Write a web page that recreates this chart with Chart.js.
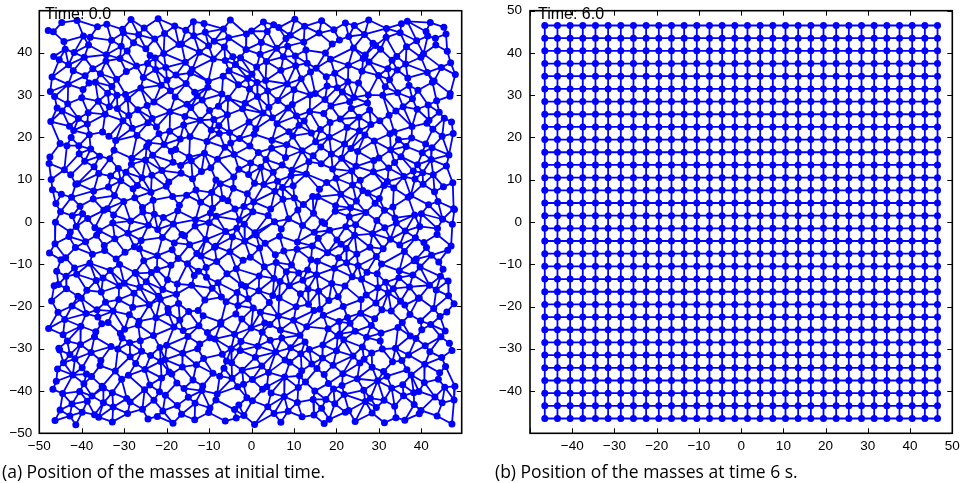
<!DOCTYPE html>
<html>
<head>
<meta charset="utf-8">
<script src="https://cdn.jsdelivr.net/npm/chart.js@4.4.1/dist/chart.umd.min.js"></script>
<style>
html,body{margin:0;padding:0;background:#fff;}
#wrap{position:relative;width:960px;height:483px;overflow:hidden;background:#fff;}
canvas{position:absolute;top:0;}
#c1{left:0;}
#c2{left:480px;}
.time{position:absolute;top:6px;font-family:"Liberation Sans",Arial,sans-serif;font-size:16px;line-height:16px;color:#000;white-space:nowrap;}
.cap{position:absolute;top:464px;font-family:"Open Sans",sans-serif;font-size:17.5px;line-height:15px;color:#000;white-space:nowrap;}
</style>
</head>
<body>
<div id="wrap">
<canvas id="c1" width="480" height="460"></canvas>
<canvas id="c2" width="480" height="460"></canvas>
<div class="time" id="t1" style="left:45px"></div>
<div class="time" id="t2" style="left:538px"></div>
<div class="cap" id="cap1" style="left:2px"></div>
<div class="cap" id="cap2" style="left:495px"></div>
</div>
<script>
// ---------- data ----------
const leftTitle = "Time: 0.0";
const rightTitle = "Time: 6.0";
const leftCaption = "(a) Position of the masses at initial time.";
const rightCaption = "(b) Position of the masses at time 6 s.";

const leftXTicks = [-50,-40,-30,-20,-10,0,10,20,30,40];
const leftYTicks = [-50,-40,-30,-20,-10,0,10,20,30,40];
const rightXTicks = [-40,-30,-20,-10,0,10,20,30,40,50];
const rightYTicks = [-40,-30,-20,-10,0,10,20,30,40,50];

// initial positions of the 32x32 masses
const initX = [
-47.9,-44.7,-41.1,-36.3,-34.1,-30.4,-28.4,-25.3,-22.0,-18.1,-15.5,-13.7,-11.2,-6.6,-5.0,0.0,2.8,5.2,6.4,10.2,12.5,16.5,19.4,22.1,24.2,27.6,31.8,35.3,36.7,41.1,42.1,45.3,
-46.7,-44.2,-39.6,-38.0,-33.0,-30.2,-27.8,-26.6,-22.8,-20.5,-16.5,-13.6,-10.9,-8.8,-5.4,-1.2,2.3,3.7,8.1,9.1,12.3,15.9,20.7,22.9,26.6,28.6,31.7,35.0,38.9,41.5,43.3,45.8,
-46.6,-43.9,-41.8,-38.4,-34.2,-30.7,-29.3,-24.9,-23.9,-20.7,-17.1,-12.3,-10.1,-6.4,-4.4,-1.3,2.0,5.9,8.5,10.3,12.8,17.4,19.0,24.0,26.8,29.2,30.4,34.2,36.5,40.5,43.4,46.1,
-45.3,-43.1,-39.4,-37.4,-34.3,-31.0,-27.1,-24.5,-22.7,-20.2,-15.6,-14.0,-9.0,-6.2,-3.8,-2.6,1.2,3.5,7.5,10.4,13.1,15.2,18.6,22.8,26.3,27.7,32.1,33.1,36.3,39.9,44.7,46.9,
-47.0,-42.0,-39.2,-36.8,-35.6,-31.8,-29.5,-25.5,-22.6,-19.9,-17.8,-14.4,-10.2,-6.7,-5.3,-0.9,0.1,3.3,6.9,11.7,13.9,17.6,19.6,22.7,26.0,29.9,32.5,34.3,36.8,41.4,43.0,48.0,
-47.4,-43.2,-39.7,-38.3,-33.9,-32.9,-29.7,-26.1,-21.3,-19.1,-15.4,-13.4,-10.3,-7.0,-3.1,-0.5,1.3,3.8,8.4,10.0,15.0,17.8,20.2,21.4,25.2,27.5,31.5,34.4,37.1,39.2,42.6,46.8,
-46.4,-43.3,-40.0,-36.1,-33.5,-31.7,-29.2,-24.6,-23.0,-18.0,-15.2,-12.8,-11.6,-7.8,-5.5,-1.5,1.4,4.1,6.2,9.6,13.8,17.3,18.7,23.1,24.1,27.3,30.9,35.7,37.9,41.6,43.6,46.7,
-45.8,-44.6,-40.8,-38.5,-34.5,-31.6,-28.9,-26.8,-23.4,-19.2,-15.7,-14.3,-9.9,-8.9,-5.7,-2.1,2.7,4.9,8.6,10.6,13.7,17.0,20.9,23.5,25.3,27.8,32.4,34.0,39.0,41.8,44.2,45.4,
-47.3,-42.9,-41.9,-38.7,-35.1,-30.3,-28.1,-24.4,-22.4,-19.3,-16.0,-12.1,-9.5,-7.7,-5.2,-0.6,1.0,6.0,8.8,11.2,12.4,16.2,18.5,22.5,25.4,28.1,30.2,33.6,37.8,41.3,42.7,47.1,
-45.1,-42.5,-40.7,-38.2,-33.6,-32.0,-27.0,-24.2,-21.8,-20.6,-16.8,-14.5,-10.5,-7.6,-4.9,-2.8,0.6,4.8,8.3,9.7,14.1,15.1,18.3,21.9,26.7,28.9,32.6,34.6,37.7,41.0,44.9,47.5,
-47.5,-43.5,-40.6,-37.9,-35.8,-32.4,-28.2,-24.7,-23.3,-18.9,-17.9,-14.7,-11.1,-6.3,-4.1,-0.4,1.6,4.7,8.0,11.9,14.5,16.3,18.8,23.4,25.0,30.0,32.8,35.2,36.4,40.2,42.5,46.5,
-47.7,-44.1,-39.3,-37.1,-33.4,-31.4,-28.3,-25.0,-21.1,-18.5,-16.7,-14.2,-9.6,-8.0,-3.0,-0.2,2.2,3.4,7.2,9.5,13.5,16.4,19.1,21.2,24.6,28.8,32.3,33.7,38.1,39.1,42.3,45.9,
-47.2,-42.6,-41.0,-36.0,-33.2,-30.8,-29.6,-25.8,-23.5,-19.5,-16.6,-13.9,-11.8,-8.4,-4.2,-0.7,0.7,5.1,6.1,9.3,12.9,17.7,19.9,23.6,25.6,28.7,32.0,35.9,38.5,40.3,42.8,47.4,
-46.9,-44.8,-41.4,-37.2,-33.7,-32.3,-27.9,-26.9,-23.7,-20.1,-15.3,-13.1,-9.4,-7.4,-4.3,-1.0,2.9,5.5,7.3,9.8,14.4,16.0,21.0,23.8,26.2,27.4,31.2,33.5,37.5,40.4,43.1,45.2,
-46.1,-42.4,-40.4,-37.3,-34.0,-30.1,-27.5,-25.7,-23.2,-18.6,-17.0,-12.0,-9.2,-6.8,-5.6,-1.8,0.5,4.5,7.4,10.1,12.2,15.6,19.8,23.3,24.7,29.1,30.1,33.3,36.9,41.7,43.9,47.6,
-45.0,-42.2,-39.8,-38.6,-34.8,-32.5,-28.5,-25.6,-22.9,-20.8,-17.4,-13.2,-9.7,-8.3,-3.9,-2.9,0.3,3.9,8.7,10.9,14.6,16.6,19.7,23.0,26.9,29.5,31.3,33.8,38.4,40.0,45.0,47.8,
-46.2,-42.7,-41.3,-36.9,-35.9,-32.7,-29.1,-24.3,-22.1,-18.4,-16.4,-13.3,-10.0,-6.1,-3.5,-1.7,0.8,5.4,7.0,12.0,14.8,17.2,18.4,22.2,24.5,28.5,31.4,34.1,36.2,39.6,43.8,47.3,
-46.3,-43.0,-39.1,-36.5,-34.7,-32.2,-27.6,-26.0,-21.0,-18.2,-15.8,-14.6,-10.8,-8.5,-4.5,-1.6,1.1,3.2,6.6,10.8,14.3,15.7,20.1,21.1,24.3,27.9,32.7,34.9,38.6,40.6,43.7,47.0,
-47.6,-43.8,-41.5,-37.5,-34.6,-31.9,-29.8,-26.4,-22.2,-18.7,-17.3,-12.9,-11.9,-8.7,-5.1,-0.3,1.9,5.6,7.6,10.7,14.0,17.9,20.5,22.3,24.8,29.4,31.0,36.0,38.8,41.2,42.4,46.2,
-45.9,-44.9,-41.7,-38.1,-33.3,-31.1,-27.4,-25.4,-22.3,-19.0,-15.1,-12.5,-10.7,-8.2,-3.6,-2.0,3.0,5.8,8.2,9.4,13.2,15.5,19.5,22.4,25.1,27.2,30.6,34.8,38.3,39.7,44.1,45.1,
-45.5,-43.7,-41.2,-36.6,-35.0,-30.0,-27.2,-24.8,-23.6,-19.8,-17.5,-13.5,-10.6,-7.9,-5.8,-2.4,1.8,5.3,6.7,11.1,12.1,15.3,18.9,23.7,25.9,29.6,31.6,34.7,38.0,41.9,44.5,46.3,
-46.5,-43.6,-40.9,-38.8,-35.4,-31.2,-27.7,-26.3,-21.9,-20.9,-17.7,-14.1,-9.3,-7.1,-3.4,-1.4,1.7,5.0,8.9,11.5,13.3,15.8,20.4,22.0,27.0,29.8,32.2,33.4,37.2,39.5,43.5,46.4,
-47.1,-42.3,-40.1,-36.4,-34.4,-31.3,-28.0,-24.1,-21.5,-19.7,-17.2,-12.6,-11.0,-6.0,-3.2,-0.8,0.4,4.2,6.5,10.5,13.4,16.1,18.2,21.6,25.8,29.3,30.7,35.1,36.1,39.3,42.9,47.7,
-45.6,-44.0,-39.0,-36.2,-33.8,-32.6,-28.8,-26.5,-22.5,-19.6,-16.9,-14.8,-11.4,-7.2,-3.7,-2.3,2.1,3.1,6.3,9.9,14.7,16.9,20.6,22.6,25.7,29.0,32.9,35.5,37.3,39.8,44.4,46.0,
-47.8,-44.4,-40.2,-36.7,-35.3,-30.9,-29.9,-26.7,-23.1,-18.3,-16.1,-12.4,-10.4,-7.3,-4.0,-0.1,2.5,4.3,6.8,11.4,13.0,18.0,20.8,23.2,24.4,28.2,30.5,34.5,37.4,40.1,42.2,45.6,
-45.4,-43.4,-40.3,-37.0,-33.1,-30.5,-28.7,-26.2,-21.6,-20.0,-15.0,-12.2,-9.8,-8.6,-4.8,-2.5,1.5,4.4,7.1,9.2,12.6,16.8,20.3,21.7,26.1,27.1,30.3,33.9,38.7,40.9,44.6,46.6,
-45.2,-42.8,-41.6,-37.8,-35.5,-31.5,-28.6,-25.9,-23.8,-20.4,-16.2,-12.7,-11.3,-6.9,-5.9,-2.7,0.9,5.7,7.9,11.6,13.6,16.7,20.0,23.9,26.5,28.3,30.8,35.4,37.0,42.0,44.8,47.2,
-45.7,-44.3,-39.9,-38.9,-35.7,-32.1,-27.3,-25.1,-21.4,-19.4,-16.3,-13.0,-9.1,-6.5,-4.7,-2.2,2.4,4.0,9.0,11.8,14.2,15.4,19.2,21.5,25.5,28.4,31.1,33.2,36.6,40.8,44.3,45.7,
-46.0,-42.1,-39.5,-37.7,-35.2,-30.6,-29.0,-24.0,-21.2,-18.8,-17.6,-13.8,-11.5,-7.5,-4.6,-1.9,0.2,3.6,7.8,11.3,12.7,17.1,18.1,21.3,24.9,29.7,31.9,35.6,37.6,40.7,44.0,47.9,
-46.8,-44.5,-40.5,-37.6,-34.9,-32.8,-29.4,-25.2,-21.7,-20.3,-15.9,-14.9,-11.7,-8.1,-3.3,-1.1,2.6,4.6,7.7,11.0,14.9,17.5,19.3,21.8,26.4,28.0,33.0,35.8,38.2,39.4,43.2,45.5,
-45.1,-42.3,-39.9,-38.7,-34.9,-32.6,-28.6,-25.7,-23.0,-20.9,-17.5,-13.3,-9.8,-8.4,-4.0,-3.0,0.2,3.8,8.6,10.8,14.5,16.5,19.6,22.9,26.8,29.4,31.2,33.7,38.3,39.9,44.9,47.7,
-46.3,-42.8,-41.4,-37.0,-36.0,-32.8,-29.2,-24.4,-22.2,-18.5,-16.5,-13.4,-10.1,-6.2,-3.6,-1.8,0.7,5.3,6.9,11.9,14.7,17.1,18.3,22.1,24.4,28.4,31.3,34.0,36.1,39.5,43.7,47.2
];
const initY = [
45.2,47.1,47.6,46.1,46.7,45.5,47.8,45.8,48.0,46.3,45.3,47.3,46.9,45.6,47.7,45.1,47.2,46.6,45.9,47.9,46.2,47.5,45.4,47.0,46.4,47.7,45.7,46.8,47.4,45.0,47.1,46.0,
44.9,42.6,43.9,43.6,42.9,44.7,42.3,44.2,43.2,44.5,42.0,44.0,44.8,42.7,43.5,44.4,42.4,45.0,43.3,44.1,42.5,44.6,43.0,43.8,44.3,42.2,43.6,44.7,42.8,43.9,43.4,44.4,
39.1,40.8,40.0,41.8,39.5,41.5,40.4,40.9,39.3,39.8,41.9,40.1,41.6,41.3,39.0,40.7,39.6,41.0,41.5,39.2,40.6,39.9,42.0,41.1,39.4,41.7,40.8,39.1,41.4,39.7,41.8,40.3,
38.3,37.1,38.9,36.2,38.0,38.6,36.8,37.4,38.7,36.5,37.7,36.0,38.5,38.1,37.2,38.8,36.6,37.9,39.0,36.9,37.5,36.3,38.4,37.0,38.6,37.8,36.2,38.2,37.3,38.9,36.5,37.6,
34.2,35.7,34.5,33.0,35.0,33.7,35.5,34.1,36.0,33.5,34.7,35.2,33.2,34.4,35.7,33.9,34.9,33.4,35.8,33.8,35.4,34.3,35.1,33.1,35.6,34.6,33.6,35.9,34.0,35.3,33.3,34.8,
30.8,32.5,31.3,32.8,30.4,32.0,30.1,31.6,32.3,31.0,32.7,30.6,31.8,30.2,32.4,31.4,32.9,30.9,32.6,31.2,30.3,32.1,31.7,30.7,32.8,30.0,31.9,30.5,32.2,31.1,33.0,30.3,
29.6,27.9,29.3,28.5,27.2,29.9,29.0,27.5,28.3,29.5,27.8,29.8,28.8,27.3,29.2,28.0,29.6,27.1,28.7,27.7,30.0,28.9,27.4,28.4,29.4,28.1,29.9,27.2,29.1,27.6,28.6,29.7,
26.9,26.2,24.4,25.8,25.4,26.8,25.1,26.5,24.4,26.0,24.9,27.0,26.3,24.2,25.3,26.7,25.7,24.6,26.9,25.0,26.1,25.6,24.3,26.8,24.7,26.4,25.2,26.2,26.6,24.0,25.9,24.5,
23.7,22.6,21.6,23.1,21.2,23.9,22.1,23.4,22.4,21.4,22.9,24.0,21.7,22.7,21.1,23.6,22.0,23.2,21.3,22.8,23.8,21.8,23.5,22.3,21.5,23.0,23.9,21.2,22.5,23.3,21.9,23.6,
18.5,19.9,18.0,20.6,20.2,19.2,20.4,18.7,20.8,18.3,19.6,20.1,19.0,20.9,18.6,19.7,20.7,19.3,18.2,20.3,21.0,18.9,20.0,18.4,20.5,19.1,20.8,19.4,19.8,18.4,20.2,20.9,
15.3,18.0,16.1,17.2,15.5,16.9,15.0,17.8,15.7,16.7,17.1,15.3,16.2,17.6,15.9,17.9,16.4,17.4,15.2,16.8,15.6,17.7,16.0,17.3,16.6,15.1,17.0,15.4,17.8,16.3,17.5,15.8,
13.8,12.3,14.3,13.0,14.9,12.6,13.6,14.6,12.1,14.1,13.3,14.4,12.8,14.8,12.4,13.9,12.9,14.7,13.4,12.2,14.2,13.7,12.5,15.0,13.1,14.5,12.7,14.0,12.0,13.5,14.7,13.2,
10.0,11.1,9.0,11.4,10.8,9.7,11.7,10.4,11.0,9.4,11.5,10.2,11.9,9.9,10.6,11.2,9.1,11.7,9.6,10.9,11.3,9.3,10.3,12.0,9.8,11.8,9.5,10.7,10.1,11.6,11.1,9.2,
7.6,6.5,8.9,7.3,8.2,6.2,7.8,8.6,7.0,8.4,6.3,7.5,6.9,9.0,7.9,6.6,8.8,7.2,8.1,8.5,6.0,7.7,6.5,8.7,7.4,6.8,8.6,8.0,6.2,8.9,7.1,8.3,
4.3,5.8,3.7,5.4,3.1,4.8,5.7,3.4,5.1,6.0,3.9,4.6,3.2,5.5,5.0,3.6,4.7,3.0,5.3,5.6,4.1,5.9,3.8,3.3,4.9,4.4,5.5,3.5,5.8,4.0,4.8,3.1,
2.4,1.4,1.9,0.8,2.7,1.6,0.2,2.3,1.8,1.0,2.6,0.5,2.1,1.3,3.0,0.4,2.4,1.5,0.7,2.8,2.0,0.0,2.5,1.2,2.2,0.3,2.7,0.9,1.6,1.9,0.6,2.9,
-0.1,-2.4,-1.1,-1.4,-2.1,-0.3,-2.7,-0.8,-1.8,-0.5,-3.0,-1.0,-0.2,-2.3,-1.5,-0.6,-2.6,0.0,-1.7,-0.9,-2.5,-0.4,-2.0,-1.2,-0.7,-2.8,-1.4,-0.3,-2.2,-1.1,-1.6,-0.6,
-5.2,-3.5,-4.7,-3.2,-5.6,-4.0,-5.9,-4.4,-3.7,-5.0,-3.3,-5.4,-4.2,-5.8,-3.6,-4.6,-3.1,-5.1,-3.4,-4.8,-5.7,-3.9,-4.3,-5.3,-3.2,-6.0,-4.1,-5.5,-3.8,-4.9,-3.0,-5.7,
-7.4,-8.5,-6.1,-7.7,-6.8,-8.8,-7.2,-6.4,-8.0,-6.6,-8.7,-7.5,-8.1,-6.0,-7.1,-8.4,-6.2,-7.8,-6.9,-6.5,-9.0,-7.3,-8.5,-6.3,-7.6,-8.2,-6.4,-7.0,-8.8,-6.1,-7.9,-6.7,
-11.7,-9.0,-10.9,-9.8,-11.5,-10.1,-12.0,-9.2,-11.3,-10.3,-9.9,-11.7,-10.8,-9.4,-11.1,-9.1,-10.6,-9.6,-11.8,-10.2,-11.4,-9.3,-11.0,-9.7,-10.4,-11.9,-10.0,-11.6,-9.2,-10.7,-9.5,-11.2,
-14.8,-12.9,-12.4,-13.9,-13.3,-14.5,-12.2,-14.2,-12.0,-13.7,-14.7,-12.7,-13.1,-14.4,-12.3,-14.9,-12.8,-13.4,-14.1,-12.1,-13.8,-12.5,-14.6,-13.0,-13.6,-12.3,-14.3,-13.2,-12.6,-15.0,-12.9,-14.0,
-15.1,-15.8,-17.6,-16.2,-16.6,-15.2,-16.9,-15.5,-17.6,-16.0,-17.1,-15.0,-15.7,-17.8,-16.7,-15.3,-16.3,-17.4,-15.1,-17.0,-15.9,-16.4,-17.7,-15.2,-17.3,-15.6,-16.8,-15.8,-15.4,-18.0,-16.1,-17.5,
-18.7,-19.9,-18.1,-20.8,-19.0,-18.4,-20.2,-19.6,-18.3,-20.5,-19.3,-21.0,-18.5,-18.9,-19.8,-18.2,-20.4,-19.1,-18.0,-20.1,-19.5,-20.7,-18.6,-20.0,-18.4,-19.2,-20.8,-18.8,-19.7,-18.1,-20.5,-19.4,
-21.4,-23.1,-21.7,-22.5,-23.8,-21.1,-22.0,-23.5,-22.7,-21.5,-23.2,-21.2,-22.2,-23.7,-21.8,-23.0,-21.4,-23.9,-22.3,-23.3,-21.0,-22.1,-23.6,-22.6,-21.6,-22.9,-21.1,-23.8,-21.9,-23.4,-22.4,-21.3,
-25.2,-26.7,-24.7,-26.0,-24.1,-26.4,-25.4,-24.4,-26.9,-24.9,-25.7,-24.6,-26.2,-24.2,-26.6,-25.1,-26.1,-24.3,-25.6,-26.8,-24.8,-25.3,-26.5,-24.0,-25.9,-24.5,-26.3,-25.0,-27.0,-25.5,-24.3,-25.8,
-29.9,-28.2,-29.0,-27.2,-29.5,-27.5,-28.6,-28.1,-29.7,-29.2,-27.1,-28.9,-27.4,-27.7,-30.0,-28.3,-29.4,-28.0,-27.5,-29.8,-28.4,-29.1,-27.0,-27.9,-29.6,-27.3,-28.2,-29.9,-27.6,-29.3,-27.2,-28.7,
-30.3,-31.4,-32.4,-30.9,-32.8,-30.1,-31.9,-30.6,-31.6,-32.6,-31.1,-30.0,-32.3,-31.3,-32.9,-30.4,-32.0,-30.8,-32.7,-31.2,-30.2,-32.2,-30.5,-31.7,-32.5,-31.0,-30.1,-32.8,-31.5,-30.7,-32.1,-30.4,
-34.8,-33.3,-34.5,-36.0,-34.0,-35.3,-33.5,-34.9,-33.0,-35.5,-34.3,-33.8,-35.8,-34.6,-33.3,-35.1,-34.1,-35.6,-33.2,-35.2,-33.6,-34.7,-33.9,-35.9,-33.4,-34.4,-35.4,-33.1,-35.0,-33.7,-35.7,-34.2,
-37.7,-36.2,-38.3,-36.6,-38.9,-37.2,-36.3,-38.6,-36.9,-36.0,-38.1,-37.4,-38.8,-36.5,-37.0,-38.4,-37.3,-39.0,-36.7,-36.4,-37.9,-36.1,-38.2,-38.7,-37.1,-37.6,-36.5,-38.5,-36.2,-38.0,-37.2,-38.9,
-39.6,-40.6,-40.1,-41.2,-39.3,-40.4,-41.8,-39.7,-40.2,-41.0,-39.4,-41.5,-39.9,-40.7,-39.0,-41.6,-39.6,-40.5,-41.3,-39.2,-40.0,-42.0,-39.5,-40.8,-39.8,-41.7,-39.3,-41.1,-40.4,-40.1,-41.4,-39.1,
-44.5,-43.1,-45.0,-42.4,-42.8,-43.8,-42.6,-44.3,-42.2,-44.7,-43.4,-42.9,-44.0,-42.1,-44.4,-43.3,-42.3,-43.7,-44.8,-42.7,-42.0,-44.1,-43.0,-44.6,-42.5,-43.9,-42.2,-43.6,-43.2,-44.6,-42.8,-42.1,
-47.0,-45.9,-48.0,-45.6,-46.2,-47.3,-45.3,-46.6,-46.0,-47.6,-45.5,-46.8,-45.1,-47.1,-46.4,-45.8,-47.9,-45.3,-47.4,-46.1,-45.7,-47.7,-46.7,-45.0,-47.2,-45.2,-47.5,-46.3,-46.9,-45.4,-45.9,-47.8
];

// final positions at t = 6 s: a regular 32x32 lattice
const finalCols = [-46.5,-43.5,-40.5,-37.5,-34.5,-31.5,-28.5,-25.5,-22.5,-19.5,-16.5,-13.5,-10.5,-7.5,-4.5,-1.5,1.5,4.5,7.5,10.5,13.5,16.5,19.5,22.5,25.5,28.5,31.5,34.5,37.5,40.5,43.5,46.5];
const finalRows = [46.5,43.5,40.5,37.5,34.5,31.5,28.5,25.5,22.5,19.5,16.5,13.5,10.5,7.5,4.5,1.5,-1.5,-4.5,-7.5,-10.5,-13.5,-16.5,-19.5,-22.5,-25.5,-28.5,-31.5,-34.5,-37.5,-40.5,-43.5,-46.5];

// ---------- helpers ----------
const BLUE = '#0000ff';
const TICK_FONT = {family: '"Liberation Sans", Arial, Helvetica, sans-serif', size: 13.5};

function fmt(v) { return v < 0 ? '\u2212' + Math.abs(v) : String(v); }

// springs between neighbouring masses (Gabriel-type neighbourhood)
function buildEdges(xs, ys, maxLen) {
  const n = xs.length, m2 = maxLen * maxLen, nb = [], out = [];
  for (let i = 0; i < n; i++) {
    const l = [];
    for (let j = 0; j < n; j++) {
      if (j === i) continue;
      const dx = xs[j] - xs[i], dy = ys[j] - ys[i];
      if (dx * dx + dy * dy < m2) l.push(j);
    }
    nb.push(l);
  }
  for (let i = 0; i < n; i++) {
    for (const j of nb[i]) {
      if (j <= i) continue;
      const mx = (xs[i] + xs[j]) / 2, my = (ys[i] + ys[j]) / 2;
      const r2 = (((xs[i] - xs[j]) ** 2 + (ys[i] - ys[j]) ** 2) / 4) * 1.0001;
      let ok = true;
      for (const k of nb[i]) {
        if (k === j) continue;
        const dx = xs[k] - mx, dy = ys[k] - my;
        if (dx * dx + dy * dy <= r2) { ok = false; break; }
      }
      if (ok) out.push({x: xs[i], y: ys[i]}, {x: xs[j], y: ys[j]}, {x: NaN, y: NaN});
    }
  }
  return out;
}

const framePlugin = {
  id: 'frame',
  afterDatasetsDraw(chart, args, opts) {
    const ctx = chart.ctx, a = chart.chartArea, sx = chart.scales.x, sy = chart.scales.y;
    ctx.save();
    ctx.strokeStyle = '#000';
    ctx.lineWidth = 1;
    ctx.beginPath();
    for (const v of opts.xMarks) {
      const p = Math.round(sx.getPixelForValue(v)) + 0.5;
      ctx.moveTo(p, a.bottom); ctx.lineTo(p, a.bottom - 5);
      ctx.moveTo(p, a.top); ctx.lineTo(p, a.top + 5);
    }
    for (const v of opts.yMarks) {
      const p = Math.round(sy.getPixelForValue(v)) + 0.5;
      ctx.moveTo(a.left, p); ctx.lineTo(a.left + 5, p);
      ctx.moveTo(a.right, p); ctx.lineTo(a.right - 5, p);
    }
    ctx.stroke();
    ctx.lineWidth = 1.6;
    ctx.strokeRect(a.left, a.top, a.right - a.left, a.bottom - a.top);
    ctx.restore();
  }
};

function makeChart(id, xs, ys, cfg) {
  const pts = xs.map((x, i) => ({x: x, y: ys[i]}));
  const edges = buildEdges(xs, ys, cfg.maxLen);
  return new Chart(document.getElementById(id), {
    type: 'scatter',
    data: {
      datasets: [
        {data: edges, showLine: true, spanGaps: false, borderColor: BLUE, borderWidth: 1.8,
         pointRadius: 0, pointHoverRadius: 0, order: 2},
        {data: pts, showLine: false, pointRadius: 3.5, pointHoverRadius: 3.5,
         pointBackgroundColor: BLUE, pointBorderWidth: 0, borderWidth: 0, order: 1}
      ]
    },
    options: {
      responsive: false,
      animation: false,
      events: [],
      devicePixelRatio: 1,
      layout: {padding: {top: 10.7, right: cfg.padRight, left: 0, bottom: 0}},
      plugins: {
        legend: {display: false},
        tooltip: {enabled: false},
        frame: {xMarks: cfg.xMarks, yMarks: cfg.yMarks}
      },
      scales: {
        x: {
          type: 'linear', min: cfg.xMin, max: cfg.xMax,
          grid: {display: false, drawTicks: false}, border: {display: false},
          afterBuildTicks: s => { s.ticks = cfg.xTicks.map(v => ({value: v})); },
          afterFit: s => { s.height = 460 - 433.3; s.paddingLeft = 0; s.paddingRight = 0; },
          ticks: {font: TICK_FONT, color: '#000', padding: 5.3, maxRotation: 0, autoSkip: false, callback: v => fmt(v)}
        },
        y: {
          type: 'linear', min: cfg.yMin, max: cfg.yMax,
          grid: {display: false, drawTicks: false}, border: {display: false},
          afterBuildTicks: s => { s.ticks = cfg.yTicks.map(v => ({value: v})); },
          afterFit: s => { s.width = cfg.yWidth; s.paddingTop = 0; s.paddingBottom = 0; },
          ticks: {font: TICK_FONT, color: '#000', padding: cfg.yPad, autoSkip: false, callback: v => fmt(v)}
        }
      }
    },
    plugins: [framePlugin]
  });
}

// ---------- build ----------
makeChart('c1', initX, initY, {
  xMin: -50, xMax: 49.5, yMin: -50, yMax: 49.9,
  xTicks: leftXTicks, yTicks: leftYTicks,
  xMarks: leftXTicks, yMarks: leftYTicks,
  yWidth: 39.3, yPad: 7, padRight: 18.3, maxLen: 7
});

const finalX = [], finalY = [];
for (const r of finalRows) for (const c of finalCols) { finalX.push(c); finalY.push(r); }

makeChart('c2', finalX, finalY, {
  xMin: -50, xMax: 50, yMin: -50, yMax: 50,
  xTicks: rightXTicks, yTicks: rightYTicks,
  xMarks: [-50].concat(rightXTicks), yMarks: [-50].concat(rightYTicks),
  yWidth: 50, yPad: 8, padRight: 7.7, maxLen: 4
});

document.getElementById('t1').textContent = leftTitle;
document.getElementById('t2').textContent = rightTitle;
document.getElementById('cap1').textContent = leftCaption;
document.getElementById('cap2').textContent = rightCaption;
</script>
</body>
</html>
